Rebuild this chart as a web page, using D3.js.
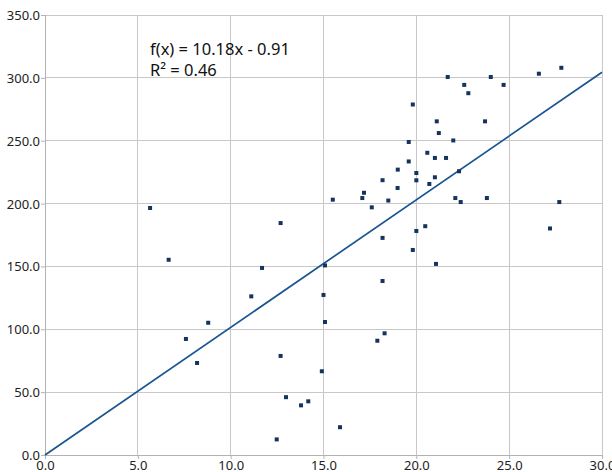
<!DOCTYPE html>
<html>
<head>
<meta charset="utf-8">
<script src="https://cdn.jsdelivr.net/npm/d3@7"></script>
<style>
  body { margin: 0; background: #fff; }
  svg { display: block; }
  .tick text { font-family: "Noto Sans", "Open Sans", sans-serif; font-size: 13px; fill: #222; }
</style>
</head>
<body>
<svg id="viz" width="612" height="472"></svg>
<script>
// scatter values
var xVals = [5.66, 6.66, 7.59, 8.19, 8.79, 11.11, 11.69, 12.69, 12.69, 12.48, 12.98, 13.79, 14.18, 14.91,
  15.0, 15.08, 15.08, 15.89, 15.5, 17.18, 17.09, 17.6, 18.18, 18.49, 18.18, 18.18, 18.29, 17.9,
  19.0, 18.99, 19.59, 19.59, 19.81, 19.81, 20.0, 20.0, 20.0, 20.48, 20.59, 20.7, 21.0, 21.0,
  21.1, 21.21, 21.06, 21.6, 21.69, 21.99, 22.1, 22.3, 22.39, 22.58, 22.8, 23.7, 23.8, 24.01,
  24.7, 26.6, 27.2, 27.7, 27.81];
var yVals = [196.5, 155.3, 92.3, 73.2, 105.2, 126.2, 148.8, 184.5, 78.8, 12.4, 46.0, 39.5, 42.7, 66.6,
  127.3, 150.8, 105.8, 22.1, 203.1, 208.6, 204.4, 197.0, 218.6, 202.4, 172.7, 138.4, 96.8, 90.9,
  227.0, 212.4, 249.0, 233.5, 278.8, 163.1, 224.3, 218.5, 178.2, 182.0, 240.4, 215.6, 236.3, 220.9,
  265.4, 256.1, 152.0, 236.3, 300.7, 250.2, 204.4, 225.7, 201.2, 294.4, 287.8, 265.4, 204.4, 300.7,
  294.4, 303.3, 180.2, 201.2, 308.0];

var xTicks = [0, 5, 10, 15, 20, 25, 30];
var yTicks = [0, 50, 100, 150, 200, 250, 300, 350];

// trend line as printed on the chart
var slope = 10.18, intercept = -0.91;
var trendLabel = ["f(x) = 10.18x - 0.91", "R\u00b2 = 0.46"];

var svg = d3.select("#viz");
var margin = { left: 45, right: 10, top: 15, bottom: 17 };
var width = 612 - margin.left - margin.right;
var height = 472 - margin.top - margin.bottom;

var x = d3.scaleLinear().domain([0, 30]).range([margin.left, margin.left + width]);
var y = d3.scaleLinear().domain([0, 350]).range([margin.top + height, margin.top]);

// grid
svg.append("g").selectAll("line").data(xTicks).enter().append("line")
    .attr("x1", function (d) { return x(d); }).attr("x2", function (d) { return x(d); })
    .attr("y1", y(0)).attr("y2", y(350))
    .attr("stroke", "#c8c8c8").attr("stroke-width", 1).attr("shape-rendering", "crispEdges");
svg.append("g").selectAll("line").data(yTicks).enter().append("line")
    .attr("y1", function (d) { return y(d); }).attr("y2", function (d) { return y(d); })
    .attr("x1", x(0)).attr("x2", x(30))
    .attr("stroke", "#c8c8c8").attr("stroke-width", 1).attr("shape-rendering", "crispEdges");

// axes
var xAxis = svg.append("g").attr("transform", "translate(0," + y(0) + ")")
    .call(d3.axisBottom(x).tickValues(xTicks).tickFormat(d3.format(".1f")).tickSize(4).tickPadding(0));
var yAxis = svg.append("g").attr("transform", "translate(" + x(0) + ",0)")
    .call(d3.axisLeft(y).tickValues(yTicks).tickFormat(d3.format(".1f")).tickSize(4).tickPadding(1));
[xAxis, yAxis].forEach(function (a) {
    a.select(".domain").attr("stroke", "#b3b3b3").attr("shape-rendering", "crispEdges");
    a.selectAll(".tick line").attr("stroke", "#b3b3b3");
});
xAxis.selectAll(".tick text").attr("dy", "0.85em");
yAxis.selectAll(".tick text").attr("dy", "0.35em");

// trend line
svg.append("line")
    .attr("x1", x(0)).attr("y1", y(Math.max(0, intercept)))
    .attr("x2", x(30)).attr("y2", y(slope * 30 + intercept))
    .attr("stroke", "#1a5490").attr("stroke-width", 1.7);

// points
var pts = d3.range(xVals.length);
svg.append("g").selectAll("rect").data(pts).enter().append("rect")
    .attr("x", function (i) { return x(xVals[i]) - 2; })
    .attr("y", function (i) { return y(yVals[i]) - 2; })
    .attr("width", 4).attr("height", 4)
    .attr("fill", "#12345e");

// equation label
svg.append("g").selectAll("text").data(trendLabel).enter().append("text")
    .attr("x", 150).attr("y", function (d, i) { return 55 + i * 21; })
    .style("font-family", "\"Noto Sans\", \"Open Sans\", sans-serif")
    .style("font-size", "16.5px").style("fill", "#111")
    .text(function (d) { return d; });
</script>
</body>
</html>
